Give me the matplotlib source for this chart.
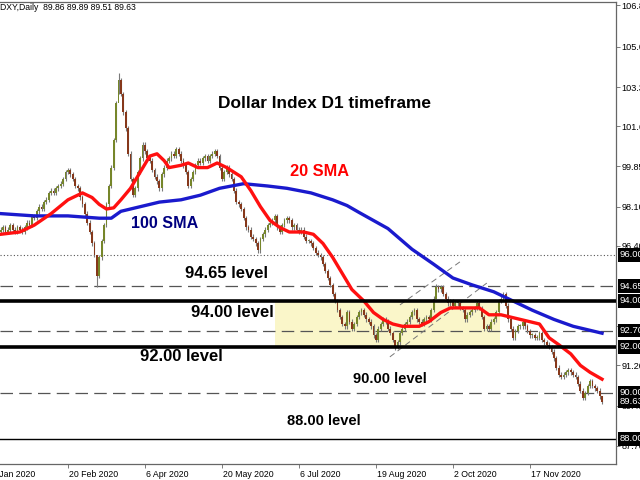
import numpy as np
import matplotlib.pyplot as plt
from matplotlib.transforms import blended_transform_factory

# daily closes, bar index 4 .. 254 (bar 0 = 7 Jan 2020)
first_index = 4
open0 = 97.0
closes = [
    97.1, 97.2, 97.0, 97.1, 97.3, 97.1, 97.0, 97.2, 97.1, 97.0,
    97.2, 97.4, 97.3, 97.7, 97.6, 97.9, 98.1, 98.0, 98.3, 98.4,
    98.7, 98.8, 98.7, 98.9, 99.0, 99.1, 99.3, 99.6, 99.7, 99.5,
    99.3, 99.0, 98.9, 98.5, 98.2, 97.8, 97.4, 97.0, 96.5, 96.0,
    95.1, 95.9, 96.6, 97.3, 98.2, 99.0, 99.8, 101.0, 102.6, 103.6,
    103.0, 102.2, 101.5, 100.4, 99.3, 98.6, 98.9, 99.6, 100.2, 100.8,
    100.5, 100.2, 100.1, 99.7, 99.4, 99.2, 98.9, 99.5, 99.8, 100.1,
    100.2, 100.4, 100.3, 100.6, 100.4, 100.1, 99.9, 99.6, 99.0, 99.3,
    99.6, 99.9, 100.1, 100.0, 100.2, 100.3, 100.1, 100.3, 100.4, 100.5,
    100.3, 99.8, 99.3, 99.6, 99.8, 99.5, 99.3, 98.8, 98.3, 98.2,
    98.0, 97.6, 97.2, 97.1, 96.8, 96.7, 96.5, 96.2, 96.7, 96.9,
    97.1, 97.3, 97.4, 97.5, 97.7, 97.2, 97.0, 97.3, 97.5, 97.6,
    97.5, 97.2, 97.3, 97.1, 97.0, 97.1, 96.8, 96.6, 96.6, 96.5,
    96.3, 96.1, 96.0, 95.9, 95.6, 95.3, 95.0, 94.7, 94.3, 94.0,
    93.6, 93.3, 93.0, 92.9, 93.5, 93.1, 92.8, 93.0, 93.3, 93.5,
    93.6, 93.4, 93.2, 93.1, 92.9, 92.5, 92.3, 92.8, 93.0, 93.2,
    93.1, 92.8, 92.6, 92.3, 92.0, 92.2, 92.6, 92.8, 93.0, 93.1,
    93.3, 93.5, 93.6, 93.2, 93.1, 93.0, 93.2, 93.3, 93.2, 93.6,
    94.1, 94.6, 94.5, 94.6, 94.3, 94.1, 93.9, 94.0, 93.8, 93.9,
    93.9, 93.7, 93.6, 93.2, 93.4, 93.5, 93.6, 93.7, 93.9, 93.7,
    93.3, 92.8, 92.9, 92.8, 93.1, 93.2, 93.5, 94.0, 94.1, 94.3,
    93.8, 93.2, 92.8, 92.4, 92.7, 92.9, 92.9, 93.1, 92.9, 92.7,
    92.5, 92.5, 92.4, 92.4, 92.6, 92.3, 92.2, 92.1, 92.0, 91.8,
    91.5, 91.1, 90.8, 90.7, 90.8, 90.9, 91.0, 90.9, 90.8, 90.7,
    90.4, 90.1, 89.8, 90.0, 90.3, 90.5, 90.3, 90.2, 90.1, 89.86,
    89.63,
]

# bars with long wicks
ext_idx = [44, 53, 111, 168, 185, 254]
ext_high = [96.0, 103.9, 96.6, 92.3, 94.75, 89.89]
ext_low = [94.6, 103.0, 96.1, 91.85, 94.4, 89.51]

sma20_idx = [4, 12, 18, 25, 32, 38, 42, 45, 48, 51, 54, 58, 62, 66, 69, 72, 74, 79, 82,
             86, 90, 94, 98, 104, 108, 112, 116, 120, 124, 130, 134, 138, 142, 146,
             150, 155, 159, 163, 167, 171, 178, 182, 187, 191, 195, 199, 203, 207,
             212, 216, 220, 224, 228, 232, 236, 241, 245, 249, 254]
sma20_val = [96.9, 97.0, 97.3, 97.8, 98.4, 98.7, 98.5, 98.2, 98.0, 98.05, 98.4, 98.9,
             99.6, 100.3, 100.4, 100.1, 99.8, 99.9, 100.0, 99.8, 99.8, 100.0, 99.8,
             99.4, 98.8, 98.1, 97.5, 97.2, 97.0, 97.0, 96.9, 96.5, 95.9, 95.2, 94.5,
             94.0, 93.5, 93.2, 93.0, 92.9, 92.9, 93.1, 93.5, 93.7, 93.7, 93.7, 93.7,
             93.4, 93.4, 93.3, 93.2, 93.1, 93.0, 92.4, 92.1, 91.7, 91.2, 90.9, 90.6]

sma100_idx = [4, 18, 32, 45, 50, 54, 62, 70, 79, 87, 95, 105, 115, 123, 133, 142,
              148, 153, 159, 165, 170, 175, 184, 192, 200, 209, 217, 225, 234, 242,
              250, 254]
sma100_val = [97.8, 97.7, 97.7, 97.6, 97.6, 97.9, 98.1, 98.3, 98.4, 98.6, 98.9, 99.1,
              99.0, 98.9, 98.7, 98.4, 98.15, 97.85, 97.5, 97.15, 96.7, 96.25, 95.6,
              95.0, 94.7, 94.4, 94.0, 93.6, 93.2, 92.9, 92.7, 92.6]

solid_levels = [94.00, 92.00]
dashed_levels = [94.65, 92.70, 90.00]
dotted_level = 96.00
low_level = 88.00
box_labels = ['96.00', '94.65', '94.00', '92.70', '92.00', '90.00', '89.63', '88.00']

zone_x = [118, 211.6]
zone_y = [92.0, 94.0]
channel_low_x, channel_low_y = [165.8, 206.1], [91.57, 94.78]
channel_up_x, channel_up_y = [170.0, 194.9], [93.83, 95.70]

y_ticks = [106.85, 105.05, 103.30, 101.60, 99.85, 98.10, 96.40, 92.90, 91.20, 89.45, 87.70]
y_tick_labels = ['106.8', '105.0', '103.3', '101.6', '99.85', '98.10', '96.40',
                 '92.90', '91.20', '89.45', '87.70']
date_ticks = [0, 32, 64, 96, 128, 160, 192, 224]
date_labels = ['7 Jan 2020', '20 Feb 2020', '6 Apr 2020', '20 May 2020',
               '6 Jul 2020', '19 Aug 2020', '2 Oct 2020', '17 Nov 2020']

fig = plt.figure(figsize=(6.4, 4.8), dpi=100)
ax = fig.add_axes([0.0, 16 / 480, 616 / 640, 462 / 480])
ax.set_xlim(3.74, 259.8)
ax.set_ylim(86.913, 107.0)

# candles
idx = np.arange(first_index, first_index + len(closes))
c = np.array(closes)
o = np.concatenate([[open0], c[:-1]])
hi = np.maximum(o, c) + 0.1
lo = np.minimum(o, c) - 0.1
for k, h, l in zip(ext_idx, ext_high, ext_low):
    hi[k - first_index] = h
    lo[k - first_index] = l
body_col = np.where(c >= o, '#76862a', '#86381b')
ax.vlines(idx, lo, hi, color='#7a7a7a', lw=0.8, zorder=3)
ax.bar(idx, np.maximum(np.abs(c - o), 0.05), bottom=np.minimum(o, c), width=0.75,
       color=body_col, linewidth=0, zorder=4)

# zone and levels
ax.fill_between(zone_x, zone_y[0], zone_y[1], color='#faf6c9', lw=0, zorder=0)
for lv in solid_levels:
    ax.axhline(lv, color='black', lw=2.6, zorder=6)
for lv in dashed_levels:
    ax.axhline(lv, color='#555555', lw=0.9, ls=(0, (10, 5)), zorder=2)
ax.axhline(dotted_level, color='#555555', lw=0.8, ls=(0, (1, 2)), zorder=2)
ax.axhline(low_level, color='black', lw=1.0, zorder=2)

ax.plot(channel_low_x, channel_low_y, color='#777777', lw=0.7, ls=(0, (6, 4)), zorder=2)
ax.plot(channel_up_x, channel_up_y, color='#777777', lw=0.7, ls=(0, (6, 4)), zorder=2)

# moving averages
ax.plot(sma100_idx, sma100_val, color='#1a1acd', lw=2.4, zorder=5)
ax.plot(sma20_idx, sma20_val, color='#ff1010', lw=2.4, zorder=5)

# text annotations
bold = dict(family='Liberation Sans', fontweight='bold', va='center', ha='left')
ax.text(94.3, 102.6, 'Dollar Index D1 timeframe', fontsize=12.4, color='black', **bold)
ax.text(124.3, 99.65, '20 SMA', fontsize=11.8, color='#ff0000', **bold)
ax.text(58.2, 97.35, '100 SMA', fontsize=11.6, color='#000080', **bold)
ax.text(80.6, 95.2, '94.65 level', fontsize=12, color='black', **bold)
ax.text(83.1, 93.52, '94.00 level', fontsize=12, color='black', **bold)
ax.text(61.9, 91.6, '92.00 level', fontsize=12, color='black', **bold)
ax.text(150.5, 90.6, '90.00 level', fontsize=10.5, color='black', **bold)
ax.text(123.0, 88.78, '88.00 level', fontsize=10.5, color='black', **bold)

fig.text(0.0, 1 - 8 / 480, 'DXY,Daily  89.86 89.89 89.51 89.63', fontsize=6.2,
         family='Liberation Sans', color='black', va='center', ha='left')

# axes styling
ax.spines['left'].set_visible(False)
for s in ['right', 'bottom', 'top']:
    ax.spines[s].set_color('#666666')
    ax.spines[s].set_linewidth(0.9)

ax.yaxis.tick_right()
ax.set_yticks(y_ticks)
ax.set_yticklabels(y_tick_labels, family='Liberation Sans')
ax.tick_params(axis='y', length=3, width=0.6, color='#666666', labelsize=6.6,
               pad=1.2, labelcolor='black')

ax.set_xticks([t for t in date_ticks if t > 3.74])
ax.set_xticklabels([])
ax.tick_params(axis='x', length=3, width=0.6, color='#666666')
tr = blended_transform_factory(ax.transData, ax.transAxes)
for t, lab in zip(date_ticks, date_labels):
    ax.text(t + 0.4, -0.022, lab, transform=tr, fontsize=6.3, family='Liberation Sans',
            ha='left', va='center', clip_on=False)

tr_y = blended_transform_factory(ax.transAxes, ax.transData)
for lab in box_labels:
    ax.text(1.006, float(lab), lab, transform=tr_y, fontsize=6.8, family='Liberation Sans',
            color='white', ha='left', va='center', clip_on=False, zorder=10,
            bbox=dict(boxstyle='square,pad=0.22', fc='black', ec='none'))

fig.savefig('out.png', dpi=100)
